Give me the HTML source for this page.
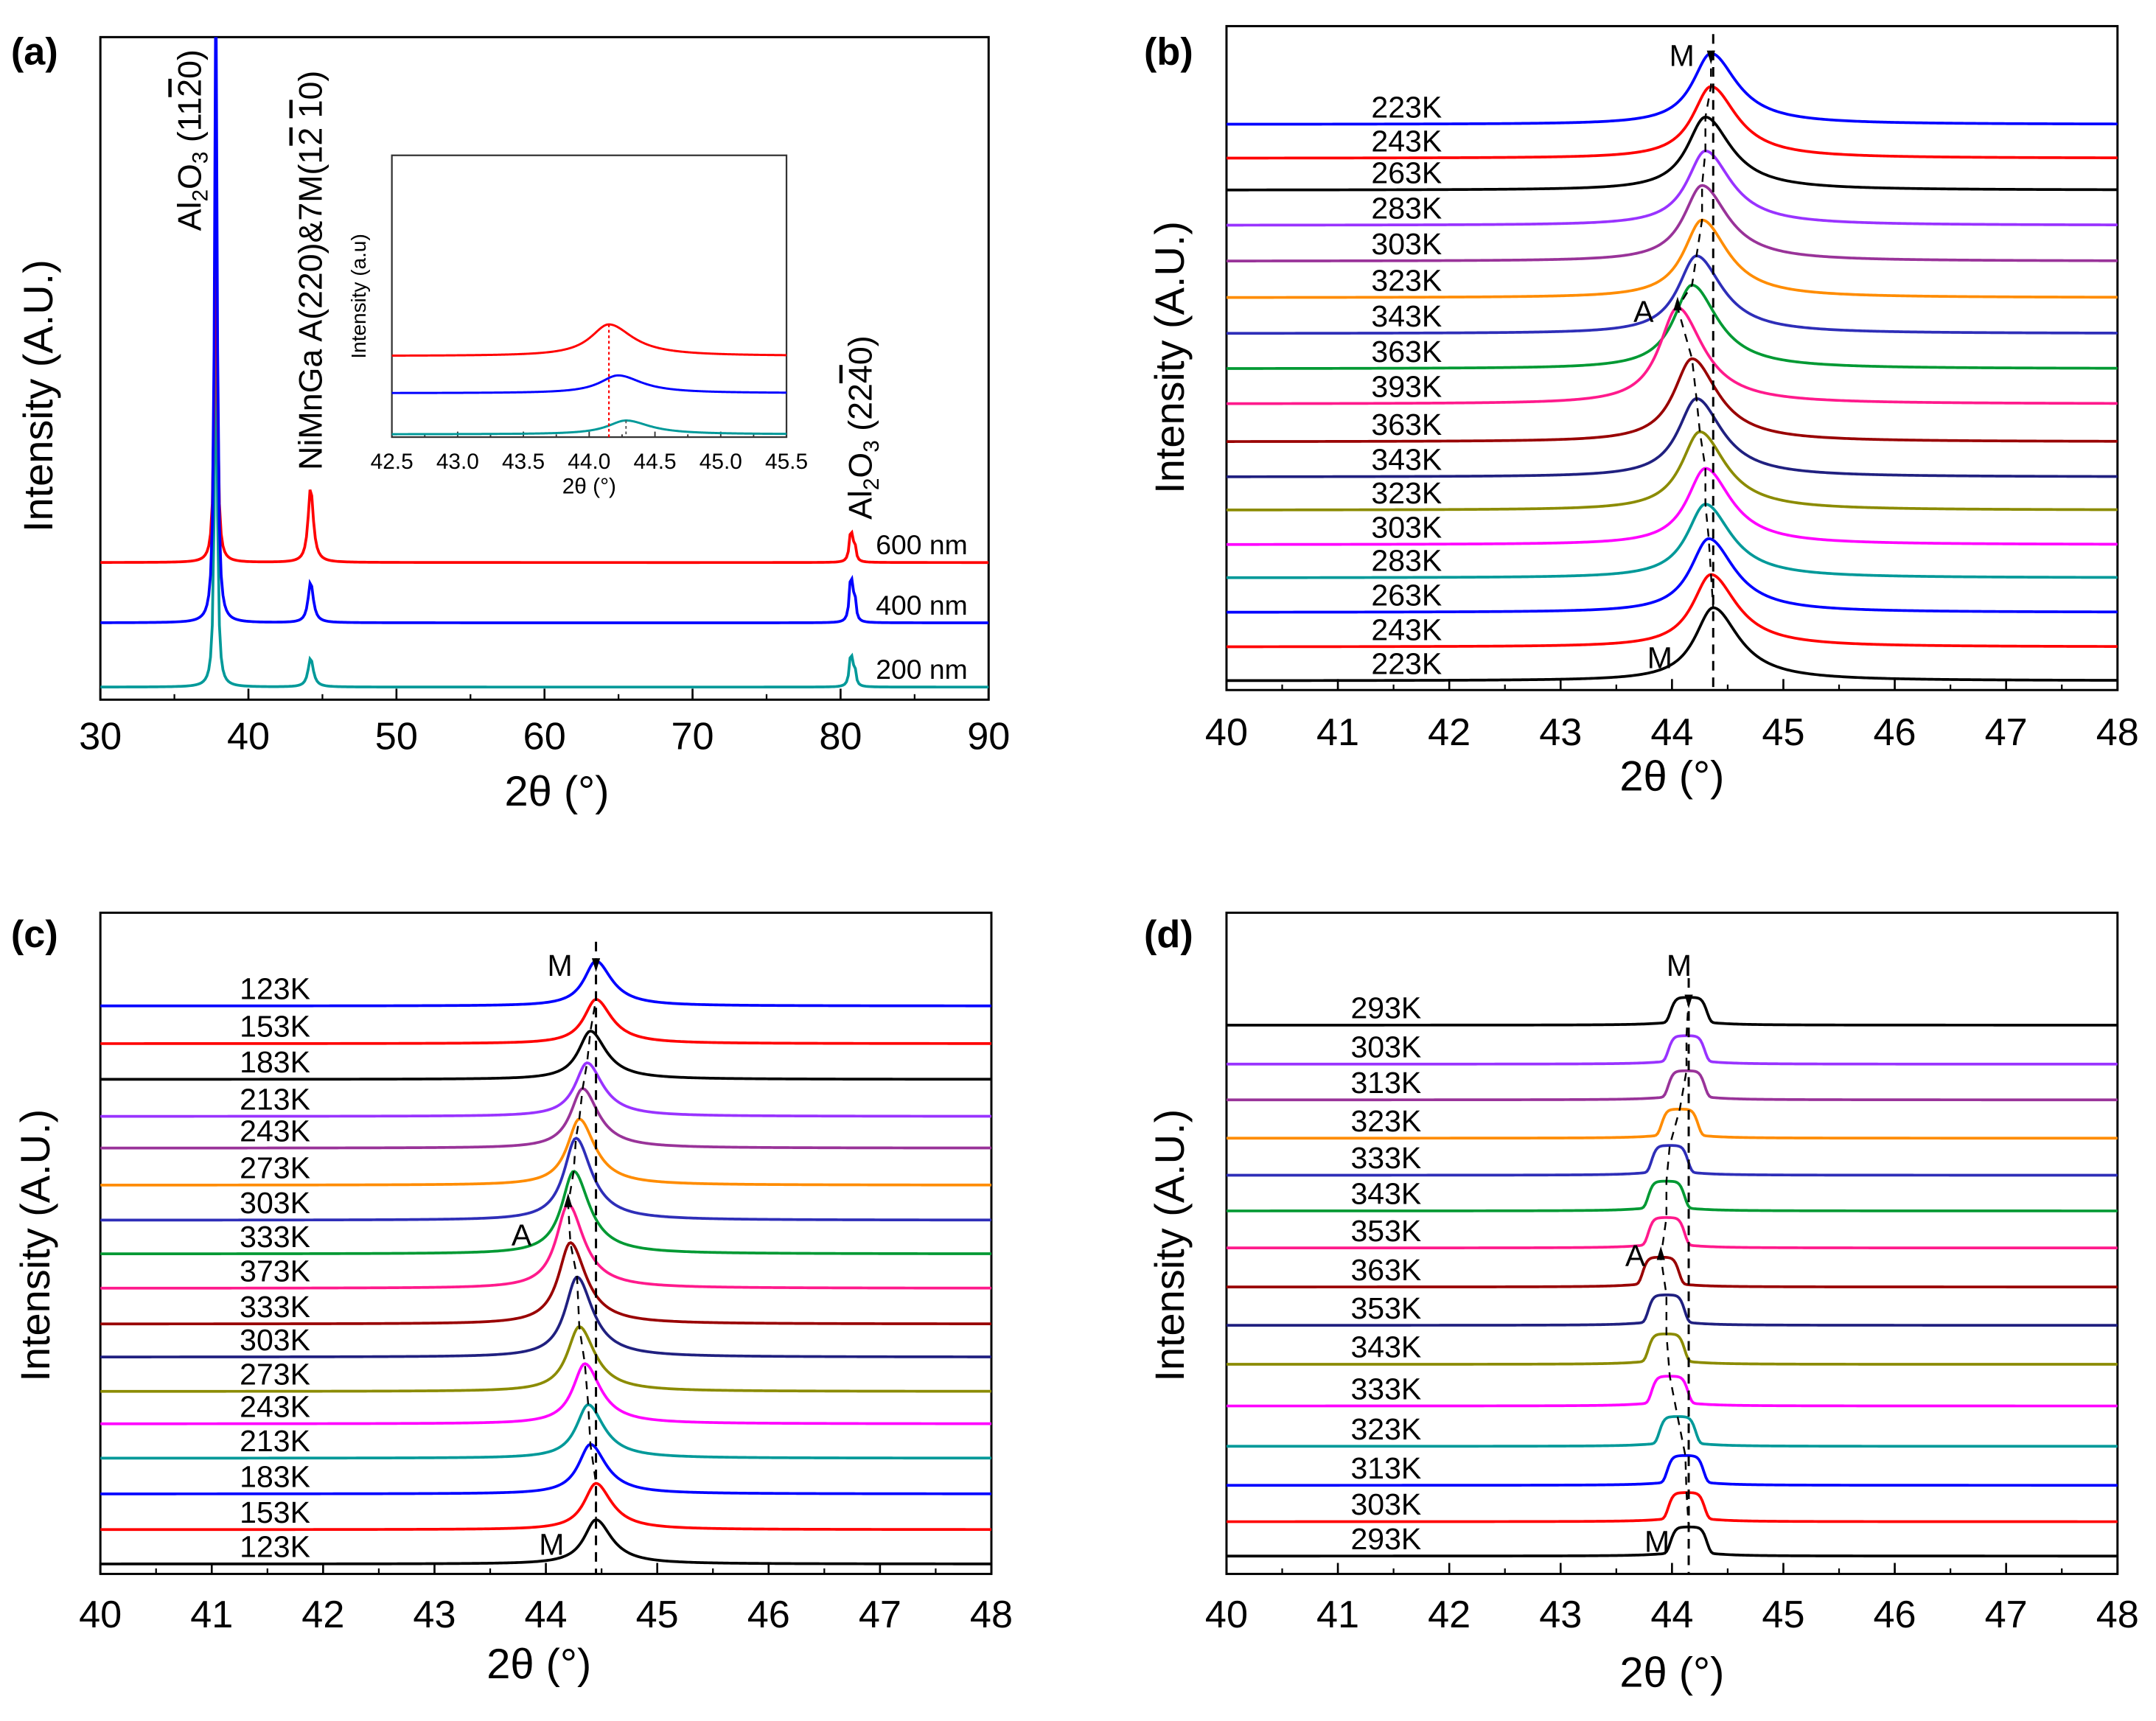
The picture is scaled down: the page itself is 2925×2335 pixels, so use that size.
<!DOCTYPE html>
<html><head><meta charset="utf-8"><style>
html,body{margin:0;padding:0;background:#fff}
svg{display:block}
text{font-family:"Liberation Sans",Arial,sans-serif;fill:#000}
</style></head><body>
<svg id="fig" width="2925" height="2335" viewBox="0 0 1568 1252" preserveAspectRatio="none" xmlns="http://www.w3.org/2000/svg"></svg>
<script>
// ---- Panel (a) data ----
const aSeries = ["600 nm","400 nm","200 nm"];
const aColors = ["#ff0000","#0000ff","#009999"];
const aOffsets = [20.7, 11.6, 1.9];
const aAl1 = [60, 100, 63];       // Al2O3 (11-20) at 37.8
const aNi = [11.4, 6.2, 4.4];     // NiMnGa at 44.2
const aAl2 = [5.0, 7.3, 5.2];     // Al2O3 (22-40) at 80.7
const aTicks = [30,40,50,60,70,80,90];
// inset
const inOffsets = [28.8, 15.6, 1.0];
const inHeights = [11.2, 6.3, 4.9];
const inPos = [44.15, 44.22, 44.28];
const inTicks = ["42.5","43.0","43.5","44.0","44.5","45.0","45.5"];
// ---- Panel (b) data ----
const bLabels = ["223K","243K","263K","283K","303K","323K","343K","363K","393K","363K","343K","323K","303K","283K","263K","243K","223K"];
const bOffsets = [85.2,80.1,75.3,70.0,64.6,59.1,53.7,48.4,43.1,37.4,32.1,27.1,21.9,16.9,11.7,6.5,1.4];
const bHeights = [10.7,10.8,11.0,11.2,11.4,11.7,11.7,12.6,14.5,12.5,11.8,11.8,11.5,11.1,11.1,10.9,11.0];
const bPos = [44.35,44.35,44.30,44.30,44.27,44.27,44.22,44.18,44.05,44.18,44.22,44.25,44.30,44.30,44.33,44.35,44.37];
// ---- Panel (c) data ----
const cLabels = ["123K","153K","183K","213K","243K","273K","303K","333K","373K","333K","303K","273K","243K","213K","183K","153K","123K"];
const cOffsets = [85.9,80.2,74.8,69.2,64.4,58.8,53.5,48.4,43.2,37.8,32.8,27.6,22.7,17.5,12.1,6.7,1.5];
const cHeights = [6.8,6.7,7.3,8.1,9.0,10.0,12.4,12.5,12.7,12.3,12.1,9.8,9.1,8.1,7.5,7.0,6.7];
const cPos = [44.45,44.45,44.40,44.37,44.33,44.30,44.27,44.25,44.20,44.22,44.28,44.30,44.35,44.38,44.40,44.45,44.45];
// ---- Panel (d) data ----
const dLabels = ["293K","303K","313K","323K","333K","343K","353K","363K","353K","343K","333K","323K","313K","303K","293K"];
const dOffsets = [83.0,77.1,71.7,65.9,60.3,54.9,49.3,43.4,37.6,31.7,25.4,19.3,13.4,7.9,2.7];
const dHeights = [4.2,4.3,4.4,4.4,4.5,4.5,4.6,4.5,4.6,4.6,4.5,4.5,4.5,4.4,4.4];
const dPos = [44.15,44.13,44.13,44.07,43.98,43.95,43.95,43.90,43.95,43.95,43.98,44.05,44.12,44.13,44.15];
const xTicks48 = [40,41,42,43,44,45,46,47,48];

const colors17 = ["#0000ff","#ff0000","#000000","#9933ff","#993399","#ff8c00","#2e2eb8","#009933","#ff1a8c","#990000","#202080","#8b8b00","#ff00ff","#009999","#0000ff","#ff0000","#000000"];
const colorsD = ["#000000","#9933ff","#993399","#ff8c00","#2e2eb8","#009933","#ff1a8c","#990000","#202080","#8b8b00","#ff00ff","#009999","#0000ff","#ff0000","#000000"];

const NS="http://www.w3.org/2000/svg";
const svg=document.getElementById('fig');
function el(tag,attrs,parent,txt){const e=document.createElementNS(NS,tag);for(const k in attrs)e.setAttribute(k,attrs[k]);if(txt!==undefined)e.textContent=txt;(parent||svg).appendChild(e);return e;}
function scale(d0,d1,r0,r1){return v=>r0+(v-d0)/(d1-d0)*(r1-r0);}

function frame(g,x0,x1,y0,y1,xmin,xmax,ticks,tickY,fs,minorStep){
  const r=el('rect',{x:x0,y:y0,width:x1-x0,height:y1-y0,fill:'none',stroke:'#000','stroke-width':1.6},g);
  
  const xs=scale(xmin,xmax,x0,x1);
  for(let v=xmin;v<=xmax+1e-9;v+=minorStep){el('line',{x1:xs(v),x2:xs(v),y1:y1,y2:y1-4,stroke:'#000','stroke-width':1.2},g);}
  ticks.forEach(t=>{const v=parseFloat(t);el('line',{x1:xs(v),x2:xs(v),y1:y1,y2:y1-8,stroke:'#000','stroke-width':1.4},g);
    const tx=el('text',{x:xs(v),y:tickY,'font-size':fs,'text-anchor':'middle'},g,String(t));
    });
  return xs;
}
function curve(g,xs,ys,xmin,xmax,off,fn,color,sw){
  let d='';const N=500;
  for(let i=0;i<=N;i++){const x=xmin+(xmax-xmin)*i/N;const y=ys(off+fn(x));d+=(i?'L':'M')+xs(x).toFixed(2)+','+y.toFixed(2);}
  const p=el('path',{d:d,fill:'none',stroke:color,'stroke-width':sw||2},g);
  return p;
}
function lor(x,p,h,wl,wr){const dx=x-p;const w=dx<0?wl:wr;return h/(1+(dx/w)*(dx/w));}
function flat(x,p,h){const dx=x-p;return h*(0.85*Math.exp(-Math.pow(Math.abs(dx)/0.17,6))+0.15/(1+(dx/0.25)*(dx/0.25)));}
function title(g,x,y,txt,fs,rot,name){const t=el('text',{x:x,y:y,'font-size':fs,'text-anchor':'middle',transform:rot?`rotate(-90 ${x} ${y})`:''},g,txt);return t;}

// ===== Panel a =====
{
const g=el('g',{});
const x0=73,x1=719,y0=27,y1=509;
const xs=frame(g,x0,x1,y0,y1,30,90,aTicks,545,28,5);
const ys=scale(0,100,y1,y0);
const cp=el('clipPath',{id:'clipA'},g);el('rect',{x:x0,y:y0,width:x1-x0,height:y1-y0},cp);
const cg=el('g',{'clip-path':'url(#clipA)'},g);
[2,0,1].forEach(i=>{
  const p=curve(cg,xs,ys,30,90,aOffsets[i],x=>lor(x,37.8,aAl1[i],0.1,0.1)+lor(x,44.2,aNi[i],0.2,0.22)+lor(x,80.7,aAl2[i],0.12,0.12)+lor(x,80.95,aAl2[i]*0.5,0.1,0.1),aColors[i],2);
  
});
aSeries.forEach((s,i)=>{const t=el('text',{x:637,y:ys(aOffsets[i])-6,'font-size':20},g,s);});
title(g,405,586,'2θ (°)',31,false,'x-axis-title');
title(g,38,288,'Intensity (A.U.)',30,true,'y-axis-title');
const pl=el('text',{x:8,y:47,'font-size':28,'font-weight':'bold'},g,'(a)');
const t1=el('text',{x:0,y:0,'font-size':24,transform:'translate(146,168) rotate(-90)'},g);

t1.innerHTML='Al<tspan font-size="16" dy="5">2</tspan><tspan dy="-5">O</tspan><tspan font-size="16" dy="5">3</tspan><tspan dy="-5"> (11</tspan><tspan text-decoration="overline">2</tspan>0)';
const t2=el('text',{x:0,y:0,'font-size':24,transform:'translate(234,342) rotate(-90)'},g);

t2.innerHTML='NiMnGa A(220)&amp;7M(1<tspan text-decoration="overline">2</tspan> <tspan text-decoration="overline">1</tspan>0)';
const t3=el('text',{x:0,y:0,'font-size':24,transform:'translate(634,378) rotate(-90)'},g);

t3.innerHTML='Al<tspan font-size="16" dy="5">2</tspan><tspan dy="-5">O</tspan><tspan font-size="16" dy="5">3</tspan><tspan dy="-5"> (22</tspan><tspan text-decoration="overline">4</tspan>0)';
// inset
const ig=el('g',{},g);
const ix0=285,ix1=572,iy0=113,iy1=318;
el('rect',{x:ix0,y:iy0,width:ix1-ix0,height:iy1-iy0,fill:'#fff',stroke:'#333','stroke-width':1.2},ig);
const ixs=scale(42.5,45.5,ix0,ix1),iys=scale(0,100,iy1,iy0);
for(let v=42.5;v<=45.51;v+=0.25){el('line',{x1:ixs(v),x2:ixs(v),y1:iy1,y2:iy1-((Math.round(v*4)%2)?2:4),stroke:'#333','stroke-width':1},ig);}
inTicks.forEach(t=>{const tx=el('text',{x:ixs(parseFloat(t)),y:iy1+23,'font-size':16,'text-anchor':'middle'},ig,t);});
title(ig,ixs(44),iy1+41,'2θ (°)',16,false,'inset-x-title');
title(ig,266,iys(50),'Intensity (a.u)',15,true,'inset-y-title');
[0,1,2].forEach(i=>{const p=curve(ig,ixs,iys,42.5,45.5,inOffsets[i],x=>lor(x,inPos[i],inHeights[i],0.17,0.22),aColors[i],1.6);});
el('line',{x1:ixs(inPos[0]),x2:ixs(inPos[0]),y1:iys(inOffsets[0]+inHeights[0]),y2:iy1,stroke:'#ff0000','stroke-width':1.2,'stroke-dasharray':'2,2'},ig);
el('line',{x1:ixs(inPos[2]),x2:ixs(inPos[2]),y1:iys(inOffsets[2]+inHeights[2]),y2:iy1,stroke:'#555','stroke-width':1,'stroke-dasharray':'2,2'},ig);
}

function stackPanel(name,lbl,x0,x1,y0,y1,labels,offs,hts,pos,cols,shape,tickY,xtY,xtX,ytX,ytY,plX,plY,labX,vX,mTop,aLab,mBot){
  const g=el('g',{});
  const xs=frame(g,x0,x1,y0,y1,40,48,xTicks48,tickY,28,0.5);
  const ys=scale(0,100,y1,y0);
  labels.forEach((l,i)=>{
    const p=curve(g,xs,ys,40,48,offs[i],x=>shape(x,pos[i],hts[i]),cols[i],2);
    
    const t=el('text',{x:labX,y:ys(offs[i])-5,'font-size':22,'text-anchor':'middle'},g,l);
    
  });
  const vl=el('line',{x1:xs(vX),x2:xs(vX),y1:ys(offs[0]+hts[0])-14,y2:y1,stroke:'#000','stroke-width':1.6,'stroke-dasharray':'7,5'},g);
  
  let d='';labels.forEach((l,i)=>{d+=(i?'L':'M')+xs(pos[i]).toFixed(2)+','+ys(offs[i]+hts[i]).toFixed(2);});
  const tl=el('path',{d:d,fill:'none',stroke:'#000','stroke-width':1.3,'stroke-dasharray':'6,5'},g);
  
  const ai=pos.indexOf(Math.min(...pos));
  [[0,-1],[ai,1]].forEach(([i,dir])=>{const X=xs(pos[i]),Y=ys(offs[i]+hts[i]);
    el('path',{d:`M${X-3},${Y+dir*2} L${X+3},${Y+dir*2} L${X},${Y-dir*8} Z`,fill:'#000'},g);});
  const m1=el('text',{x:mTop[0],y:mTop[1],'font-size':22},g,'M');
  const a1=el('text',{x:aLab[0],y:aLab[1],'font-size':22},g,'A');
  const m2=el('text',{x:mBot[0],y:mBot[1],'font-size':22},g,'M');
  title(g,xtX,xtY,'2θ (°)',31,false,'x-axis-title');
  title(g,ytX,ytY,'Intensity (A.U.)',30,true,'y-axis-title');
  const pl=el('text',{x:plX,y:plY,'font-size':28,'font-weight':'bold'},g,lbl);
}
const shapeB=(x,p,h)=>lor(x,p,h,0.2,0.28);
const shapeC=(x,p,h)=>lor(x,p,h,0.13,0.17);
const shapeD=(x,p,h)=>flat(x,p,h);
stackPanel('panel-b','(b)',892,1540,19,502,bLabels,bOffsets,bHeights,bPos,colors17,shapeB,542,575,1216,861,260,832,47,1023,44.37,[1214,48],[1188,234],[1198,486]);
stackPanel('panel-c','(c)',73,721,664,1145,cLabels,cOffsets,cHeights,cPos,colors17,shapeC,1184,1221,392,36,906,8,689,200,44.45,[398,710],[372,906],[392,1131]);
stackPanel('panel-d','(d)',892,1540,664,1145,dLabels,dOffsets,dHeights,dPos,colorsD,shapeD,1184,1227,1216,861,906,832,689,1008,44.15,[1212,710],[1182,921],[1196,1129]);
</script>
</body></html>
